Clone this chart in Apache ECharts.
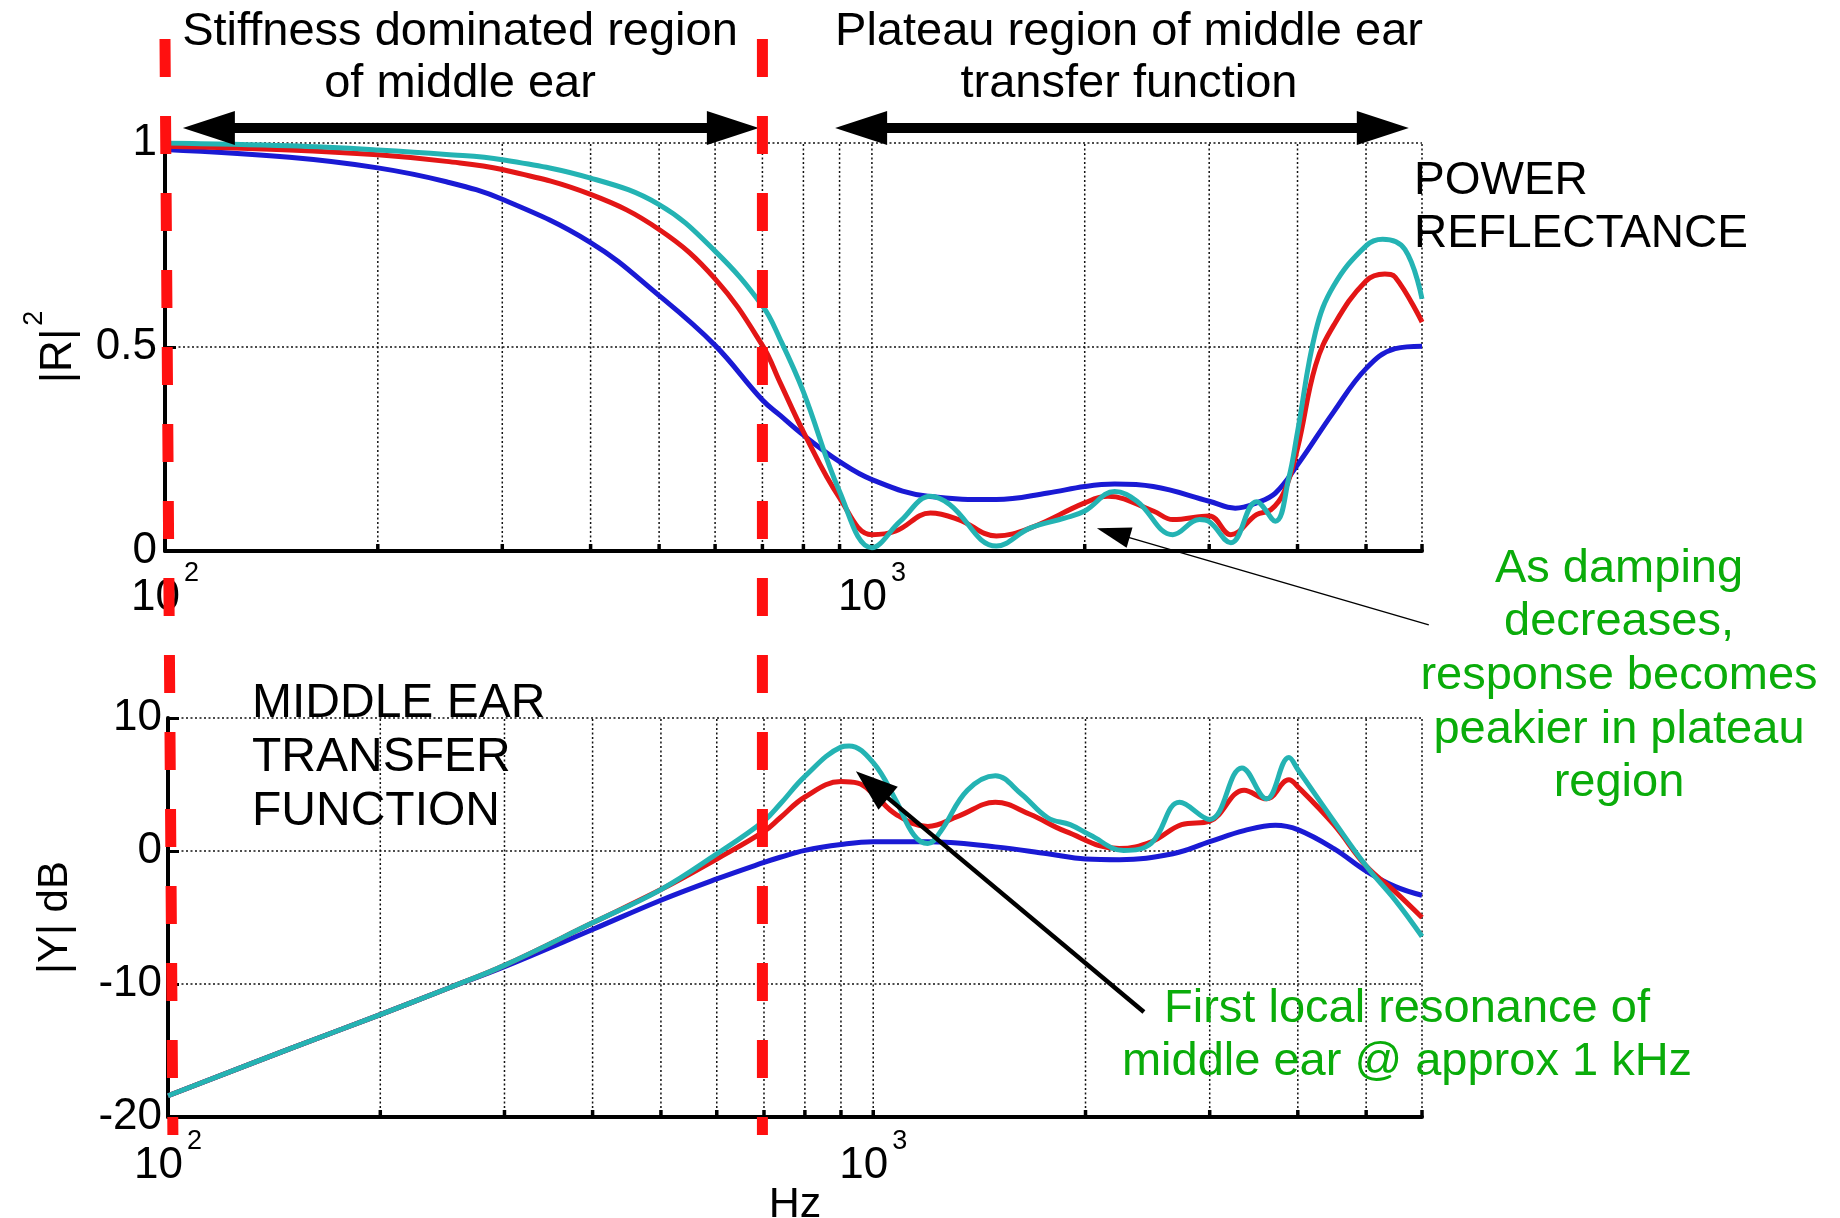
<!DOCTYPE html>
<html>
<head>
<meta charset="utf-8">
<script src="https://cdn.jsdelivr.net/npm/echarts@6/dist/echarts.min.js"></script>
<style>
  html, body { margin: 0; padding: 0; background: #fff; }
  #chart { width: 1840px; height: 1218px; }
</style>
</head>
<body>
<div id="chart"></div>
<script>
// ---- frequency axis (Hz, log scale) ----
const freqMin = 100;
const freqMax = 6000;
const gridFreqs = [200, 300, 400, 500, 600, 700, 800, 900, 1000, 2000, 3000, 4000, 5000, 6000];

// ---- power reflectance |R|^2 (three damping settings) ----
const rFreqBlue = [100, 150, 200, 250, 300, 400, 500, 600, 700, 741, 800, 900, 1000, 1200, 1500, 1774, 2000, 2205, 2500, 3000, 3266, 3500, 3722, 4000, 4500, 5000, 5500, 6000];
const rBlue     = [0.984, 0.965, 0.939, 0.905, 0.862, 0.756, 0.626, 0.504, 0.370, 0.333, 0.284, 0.219, 0.175, 0.134, 0.126, 0.142, 0.158, 0.164, 0.158, 0.122, 0.105, 0.118, 0.142, 0.211, 0.341, 0.447, 0.496, 0.502];

const rFreqRed = [100, 150, 200, 250, 300, 400, 500, 600, 700, 741, 800, 900, 1000, 1081, 1210, 1326, 1500, 1673, 2000, 2157, 2500, 2665, 3000, 3219, 3500, 3667, 3832, 4000, 4242, 4500, 5000, 5316, 5500, 6000];
const rRed     = [0.992, 0.983, 0.971, 0.955, 0.935, 0.874, 0.788, 0.667, 0.504, 0.414, 0.292, 0.130, 0.040, 0.049, 0.093, 0.077, 0.037, 0.056, 0.118, 0.134, 0.098, 0.077, 0.086, 0.040, 0.089, 0.101, 0.146, 0.252, 0.455, 0.553, 0.662, 0.679, 0.671, 0.561];

const rFreqCyan = [100, 150, 200, 250, 300, 400, 500, 600, 700, 741, 800, 900, 1000, 1097, 1210, 1288, 1500, 1673, 1878, 2000, 2205, 2371, 2665, 2907, 3000, 3219, 3500, 3722, 3888, 4000, 4242, 4500, 5000, 5278, 5675, 6000];
const rCyan     = [1.0, 0.993, 0.983, 0.972, 0.959, 0.914, 0.849, 0.735, 0.601, 0.520, 0.390, 0.146, 0.008, 0.073, 0.134, 0.114, 0.012, 0.056, 0.081, 0.098, 0.146, 0.122, 0.040, 0.077, 0.072, 0.020, 0.121, 0.073, 0.179, 0.292, 0.537, 0.650, 0.748, 0.764, 0.739, 0.618];

// ---- middle ear transfer function |Y| (dB) ----
const yFreqBlue = [100, 150, 200, 250, 300, 400, 500, 600, 700, 738, 800, 900, 1000, 1195, 1490, 1768, 2000, 2233, 2660, 3000, 3357, 3718, 4000, 4500, 5000, 5500, 6000];
const yBlue     = [-18.4, -14.8, -12.3, -10.3, -8.7, -5.9, -3.7, -2.1, -0.86, -0.47, 0.05, 0.49, 0.70, 0.70, 0.31, -0.21, -0.60, -0.65, -0.21, 0.70, 1.53, 1.94, 1.61, 0.18, -1.51, -2.68, -3.33];

const yFreqRed = [100, 150, 200, 250, 300, 400, 500, 600, 700, 738, 800, 900, 951, 1000, 1077, 1195, 1321, 1490, 1668, 1874, 2233, 2480, 2737, 3000, 3357, 3612, 3885, 4000, 4500, 5000, 5500, 6000];
const yRed     = [-18.4, -14.8, -12.3, -10.3, -8.6, -5.4, -2.9, -0.6, 1.47, 2.5, 4.06, 5.22, 5.1, 4.31, 2.76, 1.85, 2.63, 3.66, 2.76, 1.47, 0.18, 0.69, 1.98, 2.24, 4.57, 3.92, 5.35, 4.83, 1.98, -1.13, -3.07, -5.0];

const yFreqCyan = [100, 150, 200, 250, 300, 400, 500, 600, 700, 738, 800, 900, 924, 1000, 1077, 1142, 1195, 1246, 1360, 1490, 1620, 1768, 1902, 2030, 2265, 2480, 2719, 3000, 3333, 3612, 3885, 4000, 4500, 5000, 5500, 6000];
const yCyan     = [-18.4, -14.8, -12.3, -10.3, -8.6, -5.4, -2.9, -0.22, 2.26, 3.53, 5.61, 7.81, 7.9, 6.64, 3.80, 1.2, 0.56, 1.47, 4.57, 5.66, 4.31, 2.5, 1.98, 1.2, 0.04, 0.6, 3.66, 2.37, 6.25, 3.92, 7.03, 6.13, 2.24, -1.13, -3.71, -6.43];

// ---- region markers and annotation arrows (in data units) ----
const regionEdgeF = [[100, 102.6], [700, 700]];         // dashed boundaries: [freq at top, freq at bottom]
const spanArrowF = [[106, 692], [887, 5748]];           // double arrows above the reflectance panel
const spanArrowLevel = 1.037;                           // |R|^2 level of the double arrows
const noteArrowTop = [6134, -0.181, 2081, 0.056];       // tail f, tail |R|^2, tip f, tip |R|^2
const noteArrowBottom = [2420, -12.1, 945, 6.0];        // tail f, tail dB, tip f, tip dB

const FONT = '"Liberation Sans", Arial, Helvetica, sans-serif';
const C_BLUE = '#1a1ad4';
const C_RED = '#e31616';
const C_CYAN = '#24b3b3';
const C_GREEN = '#0aac0a';

const pairs = (xs, ys) => xs.map((x, i) => [x, ys[i]]);

function expLabel(v) {
  const e = Math.round(Math.log10(v));
  if (Math.abs(v - Math.pow(10, e)) > 1e-6 * v) return '';
  return '{b|10}{s|' + e + '}';
}
const expRich = {
  b: { fontSize: 44, fontFamily: FONT, color: '#000', padding: [16, 0, 0, 0], verticalAlign: 'bottom' },
  s: { fontSize: 27, fontFamily: FONT, color: '#000', verticalAlign: 'top', padding: [0, 0, 0, 4] }
};

function arrowParts(tail, tip, o) {
  const dx = tip[0] - tail[0], dy = tip[1] - tail[1];
  const len = Math.hypot(dx, dy);
  const ux = dx / len, uy = dy / len;
  const px = -uy, py = ux;
  const head = (p, sx, sy) => {
    const bx = p[0] - sx * o.headLen, by = p[1] - sy * o.headLen;
    return {
      type: 'polygon',
      shape: { points: [[p[0], p[1]], [bx + px * o.headW / 2, by + py * o.headW / 2], [bx - px * o.headW / 2, by - py * o.headW / 2]] },
      style: { fill: o.color }
    };
  };
  const back = o.headLen - 2;
  const start = o.double ? [tail[0] + ux * back, tail[1] + uy * back] : tail;
  const end = [tip[0] - ux * back, tip[1] - uy * back];
  const parts = [{
    type: 'line',
    shape: { x1: start[0], y1: start[1], x2: end[0], y2: end[1] },
    style: { stroke: o.color, lineWidth: o.width }
  }, head(tip, ux, uy)];
  if (o.double) parts.push(head(tail, -ux, -uy));
  return parts;
}

// dotted vertical grid lines plus the short inward ticks on the frequency axis
function gridLineRender(yLo, yHi) {
  return function (params, api) {
    const f = api.value(0);
    const b = api.coord([f, yLo]);
    const t = api.coord([f, yHi]);
    return {
      type: 'group',
      children: [
        { type: 'line', shape: { x1: b[0], y1: b[1], x2: t[0], y2: t[1] }, style: { stroke: '#111', lineWidth: 1.5, lineDash: [2, 2.5] } },
        { type: 'line', shape: { x1: b[0], y1: b[1], x2: b[0], y2: b[1] - 7 }, style: { stroke: '#000', lineWidth: 3.5 } }
      ]
    };
  };
}

const curve = (name, data, color, xi) => ({
  name, type: 'line', xAxisIndex: xi, yAxisIndex: xi, data,
  showSymbol: false, smooth: 0.4, z: 5,
  lineStyle: { color, width: 5 }, emphasis: { disabled: true }, animation: false
});

const dottedSplit = { show: true, lineStyle: { color: '#111', width: 1.5, type: [2, 2.5] } };

const option = {
  animation: false,
  backgroundColor: '#fff',
  textStyle: { fontFamily: FONT },
  grid: [
    { left: 165, right: 418, top: 143, bottom: 667, outerBoundsMode: 'none' },
    { left: 168, right: 418, top: 718, bottom: 101, outerBoundsMode: 'none' },
    { left: 165, right: 418, top: 39, bottom: 83, outerBoundsMode: 'none' }
  ],
  xAxis: [
    {
      type: 'log', logBase: 10, min: freqMin, max: freqMax, gridIndex: 0,
      axisLine: { show: true, onZero: false, lineStyle: { color: '#000', width: 4 } },
      axisTick: { show: false }, splitLine: { show: false }, minorTick: { show: false },
      axisLabel: { show: true, margin: 9, formatter: expLabel, rich: expRich, color: '#000' }
    },
    {
      type: 'log', logBase: 10, min: freqMin, max: freqMax, gridIndex: 1,
      axisLine: { show: true, onZero: false, lineStyle: { color: '#000', width: 4 } },
      axisTick: { show: false }, splitLine: { show: false },
      axisLabel: { show: true, margin: 11, formatter: expLabel, rich: expRich, color: '#000' },
      name: 'Hz', nameLocation: 'middle', nameGap: 67, nameMoveOverlap: false,
      nameTextStyle: { fontSize: 43, fontFamily: FONT, color: '#000' }
    },
    { type: 'log', logBase: 10, min: freqMin, max: freqMax, gridIndex: 2, show: false }
  ],
  yAxis: [
    {
      type: 'value', min: 0, max: 1, interval: 0.5, gridIndex: 0,
      axisLine: { show: true, lineStyle: { color: '#000', width: 4 } },
      axisTick: { show: true, inside: true, length: 11, lineStyle: { color: '#000', width: 3 } },
      splitLine: dottedSplit,
      axisLabel: { color: '#000', fontSize: 44, fontFamily: FONT, margin: 8, padding: [8, 0, 0, 0] },
      name: '{a||R|}{s|2}', nameLocation: 'middle', nameRotate: 90, nameGap: 84, nameMoveOverlap: false,
      nameTextStyle: {
        rich: {
          a: { fontSize: 44, fontFamily: FONT, color: '#000', padding: [16, 0, 0, 0], verticalAlign: 'bottom' },
          s: { fontSize: 27, fontFamily: FONT, color: '#000', verticalAlign: 'top', padding: [0, 0, 0, 3] }
        }
      }
    },
    {
      type: 'value', min: -20, max: 10, interval: 10, gridIndex: 1,
      axisLine: { show: true, onZero: false, lineStyle: { color: '#000', width: 4 } },
      axisTick: { show: true, inside: true, length: 11, lineStyle: { color: '#000', width: 3 } },
      splitLine: dottedSplit,
      axisLabel: { color: '#000', fontSize: 44, fontFamily: FONT, margin: 6, padding: [8, 0, 0, 0] },
      name: '|Y| dB', nameLocation: 'middle', nameRotate: 90, nameGap: 92, nameMoveOverlap: false,
      nameTextStyle: { fontSize: 42, fontFamily: FONT, color: '#000' }
    },
    { type: 'value', min: 0, max: 1, gridIndex: 2, show: false }
  ],
  series: [
    {
      type: 'custom', xAxisIndex: 0, yAxisIndex: 0, clip: false, z: 1, silent: true,
      data: gridFreqs.map(f => [f, 0]), encode: { x: 0, y: 1 },
      renderItem: gridLineRender(0, 1)
    },
    {
      type: 'custom', xAxisIndex: 1, yAxisIndex: 1, clip: false, z: 1, silent: true,
      data: gridFreqs.map(f => [f, 0]), encode: { x: 0, y: 1 },
      renderItem: gridLineRender(-20, 10)
    },
    curve('blue R', pairs(rFreqBlue, rBlue), C_BLUE, 0),
    curve('red R', pairs(rFreqRed, rRed), C_RED, 0),
    curve('cyan R', pairs(rFreqCyan, rCyan), C_CYAN, 0),
    curve('blue Y', pairs(yFreqBlue, yBlue), C_BLUE, 1),
    curve('red Y', pairs(yFreqRed, yRed), C_RED, 1),
    curve('cyan Y', pairs(yFreqCyan, yCyan), C_CYAN, 1),
    // double arrows marking the two frequency regions
    {
      type: 'custom', xAxisIndex: 0, yAxisIndex: 0, clip: false, z: 8, silent: true,
      data: spanArrowF.map(s => [s[0], s[1], spanArrowLevel]), encode: { x: [0, 1], y: 2 },
      renderItem: (params, api) => ({
        type: 'group',
        children: arrowParts(api.coord([api.value(0), api.value(2)]), api.coord([api.value(1), api.value(2)]),
          { color: '#000', width: 10, headLen: 52, headW: 34, double: true })
      })
    },
    // pointer to the plateau region of the reflectance
    {
      type: 'custom', xAxisIndex: 0, yAxisIndex: 0, clip: false, z: 8, silent: true,
      data: [noteArrowTop], encode: { x: [0, 2], y: [1, 3] },
      renderItem: (params, api) => ({
        type: 'group',
        children: arrowParts(api.coord([api.value(0), api.value(1)]), api.coord([api.value(2), api.value(3)]),
          { color: '#000', width: 1.5, headLen: 34, headW: 21, double: false })
      })
    },
    // pointer to the first resonance peak
    {
      type: 'custom', xAxisIndex: 1, yAxisIndex: 1, clip: false, z: 8, silent: true,
      data: [noteArrowBottom], encode: { x: [0, 2], y: [1, 3] },
      renderItem: (params, api) => ({
        type: 'group',
        children: arrowParts(api.coord([api.value(0), api.value(1)]), api.coord([api.value(2), api.value(3)]),
          { color: '#000', width: 4.5, headLen: 42, headW: 30, double: false })
      })
    },
    // red dashed region boundaries spanning both panels
    ...regionEdgeF.map(e => ({
      type: 'line', xAxisIndex: 2, yAxisIndex: 2, data: [[e[0], 1], [e[1], 0]],
      showSymbol: false, z: 10, silent: true, animation: false,
      lineStyle: { color: '#ff1010', width: 11, type: [38, 39], cap: 'butt' }
    }))
  ],
  graphic: [
    {
      type: 'text', x: 460, y: 58, z: 20,
      style: { text: 'Stiffness dominated region\nof middle ear', font: '47px ' + FONT, fill: '#000', textAlign: 'center', textVerticalAlign: 'middle', lineHeight: 52 }
    },
    {
      type: 'text', x: 1129, y: 58, z: 20,
      style: { text: 'Plateau region of middle ear\ntransfer function', font: '47px ' + FONT, fill: '#000', textAlign: 'center', textVerticalAlign: 'middle', lineHeight: 52 }
    },
    {
      type: 'text', x: 1414, y: 208, z: 20,
      style: { text: 'POWER\nREFLECTANCE', font: '46px ' + FONT, fill: '#000', textAlign: 'left', textVerticalAlign: 'middle', lineHeight: 53 }
    },
    {
      type: 'text', x: 252, y: 758, z: 20,
      style: { text: 'MIDDLE EAR\nTRANSFER\nFUNCTION', font: '48px ' + FONT, fill: '#000', textAlign: 'left', textVerticalAlign: 'middle', lineHeight: 54 }
    },
    {
      type: 'text', x: 1619, y: 676, z: 20,
      style: { text: 'As damping\ndecreases,\nresponse becomes\npeakier in plateau\nregion', font: '47px ' + FONT, fill: C_GREEN, textAlign: 'center', textVerticalAlign: 'middle', lineHeight: 53.7 }
    },
    {
      type: 'text', x: 1407, y: 1036, z: 20,
      style: { text: 'First local resonance of\nmiddle ear @ approx 1 kHz', font: '47px ' + FONT, fill: C_GREEN, textAlign: 'center', textVerticalAlign: 'middle', lineHeight: 53 }
    }
  ]
};

const chart = echarts.init(document.getElementById('chart'), null, { renderer: 'canvas' });
chart.setOption(option);
</script>
</body>
</html>
